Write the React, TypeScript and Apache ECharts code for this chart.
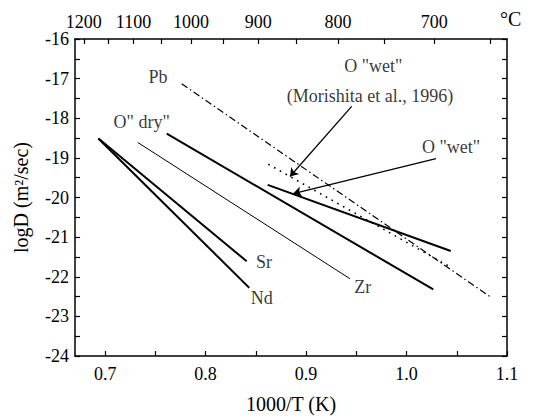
import React, { useEffect, useRef } from 'react';
import * as echarts from 'echarts';

const FONT = '"Liberation Serif", "Times New Roman", Times, serif';

// bottom axis (1000/T)
const xTickValues = [0.7, 0.75, 0.8, 0.85, 0.9, 0.95, 1.0, 1.05, 1.1];
const xLabelValues = [0.7, 0.8, 0.9, 1.0, 1.1];
// left/right axis (logD)
const yTickValues = [-24, -23.5, -23, -22.5, -22, -21.5, -21, -20.5, -20, -19.5, -19, -18.5, -18, -17.5, -17, -16.5, -16];
const yLabelValues = [-24, -23, -22, -21, -20, -19, -18, -17, -16];
// top axis (°C)
const topTempLabels = [1200, 1100, 1000, 900, 800, 700];
const topTempMinor = [1150, 1050, 950, 850, 750, 650];

// diffusion lines [1000/T, logD]
const ndLine = [[0.6932, -18.51], [0.8435, -22.28]];
const srLine = [[0.6934, -18.51], [0.8409, -21.61]];
const zrLine = [[0.7324, -18.61], [0.9437, -22.05]];
const oDryLine = [[0.7613, -18.39], [1.0266, -22.32]];
const oWetLine = [[0.8618, -19.68], [1.044, -21.35]];
const morishitaLine = [[0.8624, -19.16], [1.044, -21.76]];
const pbLine = [[0.7762, -17.13], [1.083, -22.5]];

// arrows [from, to]
const arrowMorishita = [[0.9454, -17.7], [0.884, -19.47]];
const arrowWet = [[1.0293, -19.02], [0.8873, -19.9]];

// annotation labels
const labelNames = ['Sr', 'Nd', 'Zr', 'Pb', 'O" dry"', 'O "wet"', '(Morishita et al., 1996)', 'O "wet" '];
const labelX = [0.8582, 0.8558, 0.9563, 0.7526, 0.7364, 0.9669, 0.9636, 1.0465];
const labelY = [-21.64, -22.54, -22.25, -16.97, -18.09, -16.69, -17.43, -18.72];

const toInvT = (c: number) => 1000 / (c + 273.15);

export default function App() {
  const ref = useRef<HTMLDivElement>(null);
  useEffect(() => {
    document.body.style.margin = '0';
    if (!ref.current) return;
    const chart = echarts.init(ref.current, null, { renderer: 'svg' });
    const lineSeries = (data: number[][], width: number, type: any) => ({
      type: 'line',
      data,
      symbol: 'none',
      silent: true,
      lineStyle: { color: '#000', width, type },
      xAxisIndex: 0,
      yAxisIndex: 0,
    });
    const arrowSeries = (pts: number[][]) => ({
      type: 'line',
      data: [],
      xAxisIndex: 0,
      yAxisIndex: 0,
      markLine: {
        silent: true,
        symbol: ['none', 'arrow'],
        symbolSize: 8,
        label: { show: false },
        lineStyle: { color: '#000', width: 1.3, type: 'solid' },
        data: [[{ coord: pts[0] }, { coord: pts[1] }]],
      },
    });
    const axisCommon = {
      axisLine: { show: true, onZero: false, lineStyle: { color: '#000', width: 1.5 } },
      splitLine: { show: false },
    };
    const labelFont = { color: '#000', fontFamily: FONT, fontSize: 18 };
    chart.setOption({
      animation: false,
      grid: { left: 75, right: 36, top: 39, bottom: 58 },
      xAxis: [
        {
          type: 'value',
          position: 'bottom',
          min: 0.67,
          max: 1.1,
          ...axisCommon,
          axisTick: { show: true, inside: true, length: 5, customValues: xTickValues, lineStyle: { color: '#000', width: 1.2 } },
          axisLabel: {
            customValues: xLabelValues,
            formatter: (v: number) => v.toFixed(1),
            ...labelFont,
            margin: 9,
          },
          name: '1000/T (K)',
          nameLocation: 'middle',
          nameGap: 38,
          nameTextStyle: { color: '#000', fontFamily: FONT, fontSize: 20 },
        },
        {
          type: 'value',
          position: 'top',
          min: 0.67,
          max: 1.1,
          ...axisCommon,
          axisTick: {
            show: true,
            inside: true,
            length: 5,
            customValues: [...topTempLabels, ...topTempMinor].map(toInvT),
            lineStyle: { color: '#000', width: 1.2 },
          },
          axisLabel: {
            customValues: topTempLabels.map(toInvT),
            formatter: (v: number) => String(Math.round(1000 / v - 273.15)),
            ...labelFont,
            margin: 8,
          },
        },
      ],
      yAxis: [
        {
          type: 'value',
          position: 'left',
          min: -24,
          max: -16,
          ...axisCommon,
          axisTick: { show: true, inside: true, length: 5, customValues: yTickValues, lineStyle: { color: '#000', width: 1.2 } },
          axisLabel: {
            customValues: yLabelValues,
            ...labelFont,
            margin: 6,
          },
          name: 'logD (m²/sec)',
          nameLocation: 'middle',
          nameGap: 44,
          nameTextStyle: { color: '#000', fontFamily: FONT, fontSize: 20 },
        },
        {
          type: 'value',
          position: 'right',
          min: -24,
          max: -16,
          ...axisCommon,
          axisTick: { show: true, inside: true, length: 5, customValues: yTickValues, lineStyle: { color: '#000', width: 1.2 } },
          axisLabel: { show: false },
        },
      ],
      graphic: [
        {
          type: 'text',
          left: 500,
          top: 9,
          style: { text: '°C', fill: '#000', font: `20px ${FONT}` },
        },
      ],
      series: [
        lineSeries(ndLine, 2, 'solid'),
        lineSeries(srLine, 2, 'solid'),
        lineSeries(zrLine, 1, 'solid'),
        lineSeries(oDryLine, 2, 'solid'),
        lineSeries(oWetLine, 2, 'solid'),
        lineSeries(morishitaLine, 1.6, [1.6, 5]),
        lineSeries(pbLine, 1.2, [7, 3, 1.5, 3]),
        arrowSeries(arrowMorishita),
        arrowSeries(arrowWet),
        {
          type: 'scatter',
          symbolSize: 0,
          silent: true,
          xAxisIndex: 0,
          yAxisIndex: 0,
          data: labelNames.map((n, i) => ({ name: n, value: [labelX[i], labelY[i]] })),
          label: {
            show: true,
            position: 'inside',
            formatter: (p: any) => p.name,
            ...labelFont,
          },
        },
      ],
    });
    return () => chart.dispose();
  }, []);
  return <div ref={ref} style={{ width: 543, height: 419 }} />;
}
